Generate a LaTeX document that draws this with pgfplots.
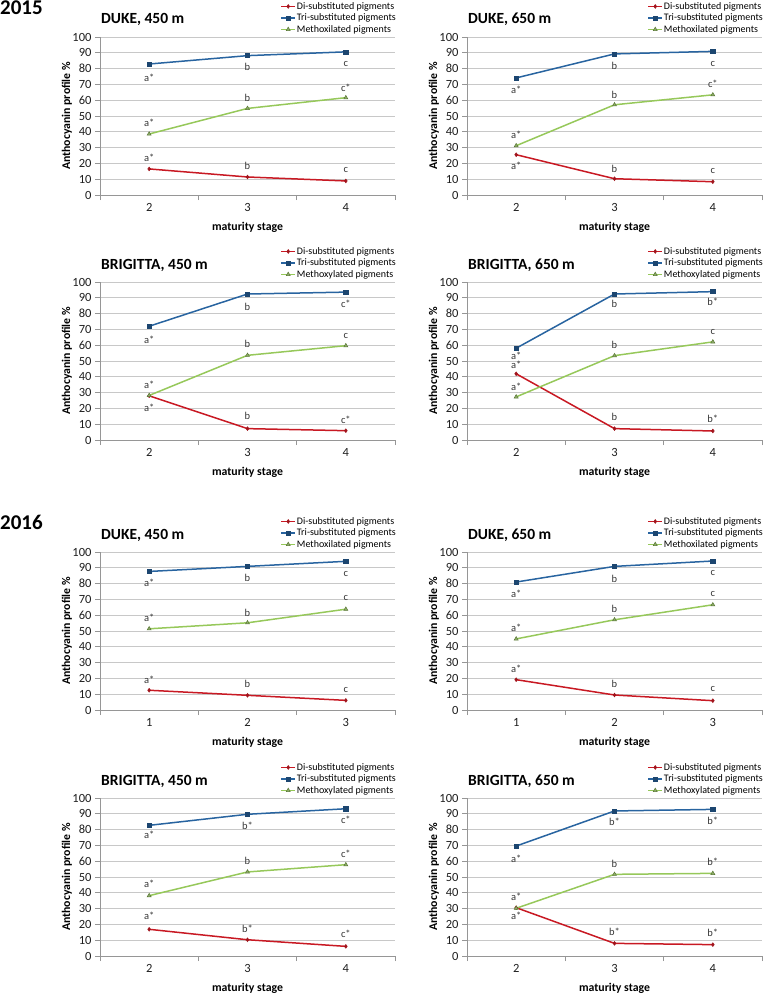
\documentclass[border=0pt]{standalone}
\usepackage{fontspec}
\setmainfont{Carlito}
\usepackage{pgfplots}
\pgfplotsset{compat=1.18}

\definecolor{cdi}{RGB}{200,25,35}
\definecolor{ctri}{RGB}{40,100,160}
\definecolor{cme}{RGB}{150,200,90}
\definecolor{cgrid}{RGB}{200,200,200}
\definecolor{caxis}{RGB}{150,150,150}
\definecolor{clab}{RGB}{55,55,55}
\definecolor{ctick}{RGB}{30,30,30}

\tikzset{lab/.style={font=\fontsize{10.5}{12}\selectfont, text=clab, inner sep=0pt}}
\newcommand\lab[3]{\node[lab] at (axis cs:#1,#2) {#3};}

\pgfplotsset{
  panel/.style={
    scale only axis, width=295pt, height=158pt,
    anchor=south west,
    ymin=0, ymax=100, ytick={0,10,...,100},
    ymajorgrids, grid style={cgrid, line width=0.9pt},
    axis x line*=bottom, axis y line*=left,
    axis line style={caxis, line width=0.9pt},
    tick align=outside,
    major tick length=5pt, minor tick length=5pt,
    major x tick style={draw=none},
    minor x tick style={caxis, line width=0.9pt},
    major y tick style={caxis, line width=0.9pt},
    /pgf/number format/assume math mode=true,
    ticklabel style={font=\fontsize{12.5}{14}\selectfont, text=ctick},
    every axis title/.style={at={([xshift=1pt,yshift=13pt]axis description cs:0,1)}, anchor=base west, inner sep=0pt, font=\bfseries\fontsize{15.5}{17}\selectfont},
    every axis x label/.style={at={([yshift=-32pt]axis description cs:0.5,0)}, anchor=center, font=\bfseries\fontsize{11.8}{13}\selectfont},
    every axis y label/.style={at={([xshift=-33pt]axis description cs:0,0.5)}, anchor=center, rotate=90, font=\bfseries\fontsize{11.8}{13}\selectfont},
    xlabel={maturity stage},
    ylabel={Anthocyanin profile \%},
    legend style={at={([xshift=2pt,yshift=36.5pt]axis description cs:1,1)}, anchor=north east, draw=none, fill=none,
      font=\fontsize{10}{11}\selectfont, row sep=0pt, inner sep=0pt,
      nodes={inner sep=1pt, text height=7.5pt, text depth=2pt}, cells={anchor=west}},
    legend image code/.code={\draw[mark repeat=2, mark phase=2] plot coordinates {(0pt,0pt) (7pt,0pt) (14pt,0pt)};},
  },
  sA/.style={panel, xmin=1.5, xmax=4.5, xtick={2,3,4}, minor xtick={1.5,2.5,3.5,4.5}},
  sB/.style={panel, xmin=0.5, xmax=3.5, xtick={1,2,3}, minor xtick={0.5,1.5,2.5,3.5}},
  di/.style={cdi, line width=1.5pt, mark=diamond*, mark size=1.9pt, mark options={fill=cdi!80!black, draw=cdi!80!black, line width=0.5pt}},
  tri/.style={ctri, line width=1.5pt, mark=square*, mark size=2.1pt, mark options={fill=ctri!70!black, draw=ctri!70!black, line width=0.5pt}},
  me/.style={cme, line width=1.5pt, mark=triangle*, mark size=2.3pt, mark options={fill=cme!60!gray, draw=cme!60!black, line width=0.5pt}},
}

\begin{document}
\begin{tikzpicture}
\useasboundingbox (0pt,0pt) rectangle (767pt,-1000pt);

\node[anchor=base west, inner sep=0pt, font=\bfseries\fontsize{21}{24}\selectfont] at (0pt,-15pt) {2015};
\node[anchor=base west, inner sep=0pt, font=\bfseries\fontsize{21}{24}\selectfont] at (0pt,-529pt) {2016};

% ---------- 2015 DUKE 450
\begin{axis}[sA, at={(100pt,-195pt)}, title={DUKE, 450 m}]
\addplot[di] coordinates {(2,16.5) (3,11.4) (4,8.9)};
\addplot[tri] coordinates {(2,82.9) (3,88.2) (4,90.6)};
\addplot[me] coordinates {(2,38.6) (3,54.8) (4,61.6)};
\legend{Di-substituted pigments, Tri-substituted pigments, Methoxilated pigments}
\lab{2}{74}{a*}\lab{3}{81}{b}\lab{4}{83}{c}
\lab{2}{45.7}{a*}\lab{3}{61.5}{b}\lab{4}{68}{c*}
\lab{2}{23.6}{a*}\lab{3}{18.3}{b}\lab{4}{15.8}{c}
\end{axis}

% ---------- 2015 DUKE 650
\begin{axis}[sA, at={(467pt,-195pt)}, title={DUKE, 650 m}]
\addplot[di] coordinates {(2,25.5) (3,10.3) (4,8.4)};
\addplot[tri] coordinates {(2,74.1) (3,89.3) (4,90.9)};
\addplot[me] coordinates {(2,31.2) (3,57.1) (4,63.4)};
\legend{Di-substituted pigments, Tri-substituted pigments, Methoxilated pigments}
\lab{2}{66.7}{a*}\lab{3}{81.7}{b}\lab{4}{83.2}{c}
\lab{2}{37.9}{a*}\lab{3}{63.6}{b}\lab{4}{70.1}{c*}
\lab{2}{18.7}{a*}\lab{3}{16.4}{b}\lab{4}{15.4}{c}
\end{axis}

% ---------- 2015 BRIGITTA 450
\begin{axis}[sA, at={(100pt,-440pt)}, title={BRIGITTA, 450 m}]
\addplot[di] coordinates {(2,28) (3,7.2) (4,5.9)};
\addplot[tri] coordinates {(2,72.0) (3,92.4) (4,93.6)};
\addplot[me] coordinates {(2,28.2) (3,53.6) (4,59.7)};
\legend{Di-substituted pigments, Tri-substituted pigments, Methoxylated pigments}
\lab{2}{63.6}{a*}\lab{3}{84.3}{b}\lab{4}{86.2}{c*}
\lab{2}{35}{a*}\lab{3}{61}{b}\lab{4}{66.1}{c}
\lab{2}{20.6}{a*}\lab{3}{15.5}{b}\lab{4}{12.7}{c*}
\end{axis}

% ---------- 2015 BRIGITTA 650
\begin{axis}[sA, at={(467pt,-440pt)}, title={BRIGITTA, 650 m}]
\addplot[di] coordinates {(2,41.9) (3,7.2) (4,5.7)};
\addplot[tri] coordinates {(2,58.1) (3,92.4) (4,93.9)};
\addplot[me] coordinates {(2,27.3) (3,53.4) (4,62.1)};
\legend{Di-substituted pigments, Tri-substituted pigments, Methoxylated pigments}
\lab{2}{53.2}{a*}\lab{3}{86.4}{b}\lab{4}{87.5}{b*}
\lab{2}{33.9}{a*}\lab{3}{60.4}{b}\lab{4}{68.2}{c}
\lab{2}{47.7}{a*}\lab{3}{14.8}{b}\lab{4}{13.1}{b*}
\end{axis}

% ---------- 2016 DUKE 450
\begin{axis}[sB, at={(100pt,-710pt)}, title={DUKE, 450 m}]
\addplot[di] coordinates {(1,12.5) (2,9.3) (3,6.1)};
\addplot[tri] coordinates {(1,87.7) (2,90.9) (3,94.1)};
\addplot[me] coordinates {(1,51.4) (2,55.2) (3,63.8)};
\legend{Di-substituted pigments, Tri-substituted pigments, Methoxilated pigments}
\lab{1}{80.3}{a*}\lab{2}{83.9}{b}\lab{3}{86}{c}
\lab{1}{58.1}{a*}\lab{2}{61.5}{b}\lab{3}{70.8}{c}
\lab{1}{19}{a*}\lab{2}{16.3}{b}\lab{3}{12.7}{c}
\end{axis}

% ---------- 2016 DUKE 650
\begin{axis}[sB, at={(467pt,-710pt)}, title={DUKE, 650 m}]
\addplot[di] coordinates {(1,19.2) (2,9.5) (3,5.9)};
\addplot[tri] coordinates {(1,81) (2,90.9) (3,94.3)};
\addplot[me] coordinates {(1,45) (2,57.1) (3,66.6)};
\legend{Di-substituted pigments, Tri-substituted pigments, Methoxilated pigments}
\lab{1}{73.4}{a*}\lab{2}{82.7}{b}\lab{3}{86.7}{c}
\lab{1}{51.8}{a*}\lab{2}{63.8}{b}\lab{3}{73.2}{c}
\lab{1}{26}{a*}\lab{2}{16.3}{b}\lab{3}{13.1}{c}
\end{axis}

% ---------- 2016 BRIGITTA 450
\begin{axis}[sA, at={(100pt,-956pt)}, title={BRIGITTA, 450 m}]
\addplot[di] coordinates {(2,16.9) (3,10.3) (4,6.1)};
\addplot[tri] coordinates {(2,82.7) (3,89.7) (4,93.2)};
\addplot[me] coordinates {(2,38.2) (3,53.2) (4,57.8)};
\legend{Di-substituted pigments, Tri-substituted pigments, Methoxylated pigments}
\lab{2}{76.8}{a*}\lab{3}{82.3}{b*}\lab{4}{86.5}{c*}
\lab{2}{45.4}{a*}\lab{3}{59.9}{b}\lab{4}{64.8}{c*}
\lab{2}{25.3}{a*}\lab{3}{17.3}{b*}\lab{4}{13.9}{c*}
\end{axis}

% ---------- 2016 BRIGITTA 650
\begin{axis}[sA, at={(467pt,-956pt)}, title={BRIGITTA, 650 m}]
\addplot[di] coordinates {(2,30.6) (3,8) (4,7.2)};
\addplot[tri] coordinates {(2,69.6) (3,91.8) (4,92.8)};
\addplot[me] coordinates {(2,30.2) (3,51.7) (4,52.3)};
\legend{Di-substituted pigments, Tri-substituted pigments, Methoxylated pigments}
\lab{2}{61.4}{a*}\lab{3}{84.8}{b*}\lab{4}{85.4}{b*}
\lab{2}{37.3}{a*}\lab{3}{58}{b}\lab{4}{59.9}{b*}
\lab{2}{25.3}{a*}\lab{3}{15.2}{b*}\lab{4}{14.6}{b*}
\end{axis}
\end{tikzpicture}
\end{document}
